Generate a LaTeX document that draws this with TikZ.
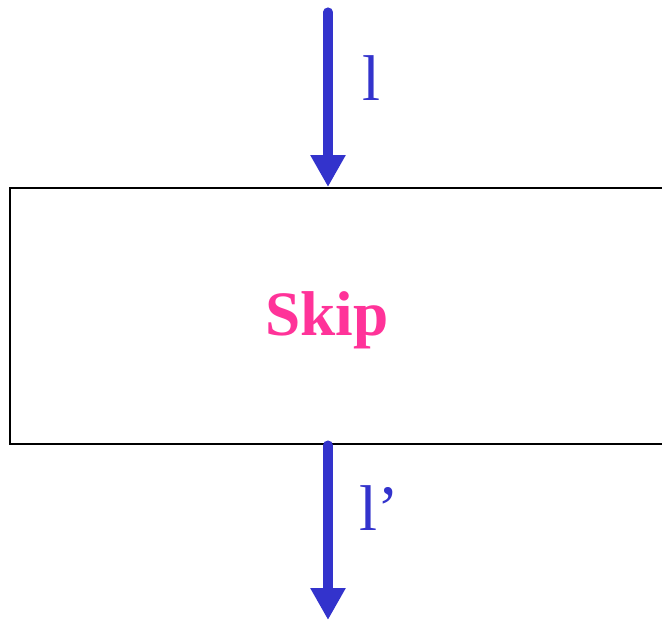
\documentclass[tikz,border=0pt]{standalone}
\usepackage{fontspec}
\setmainfont{Liberation Serif}
\usetikzlibrary{arrows.meta,positioning}
\definecolor{flowblue}{HTML}{3333CC}
\definecolor{skippink}{HTML}{FF3399}

\begin{document}
\begin{tikzpicture}[
    x=0.025cm, y=-0.025cm,
    every node/.style={inner sep=0pt},
    block/.style={draw, line width=1.4pt, minimum width=17.5cm, minimum height=6.4cm},
    title/.style={font=\fontsize{45}{54}\selectfont\bfseries, text=skippink},
    lbl/.style={font=\fontsize{46}{54}\selectfont, text=flowblue},
    flow/.style={-{Triangle[length=0.8cm, width=0.83cm]}, line width=6.5pt, line cap=round, flowblue}
]
\useasboundingbox (0,0) rectangle (662,621);
\clip (0,0) rectangle (662,621);
\node[block, anchor=north west] (box) at (9,187) {};
\node[title] (skip) at (327,320) {Skip};
\coordinate (top) at (328,12);
\coordinate (bottom) at (328,620);
\draw[flow] (top) -- (box.north -| top);
\draw[flow] (box.south -| top) -- (bottom);
\node[lbl] (in) at (371,78) {l};
\node[lbl] (out) at (379,508) {l’};
\end{tikzpicture}
\end{document}
